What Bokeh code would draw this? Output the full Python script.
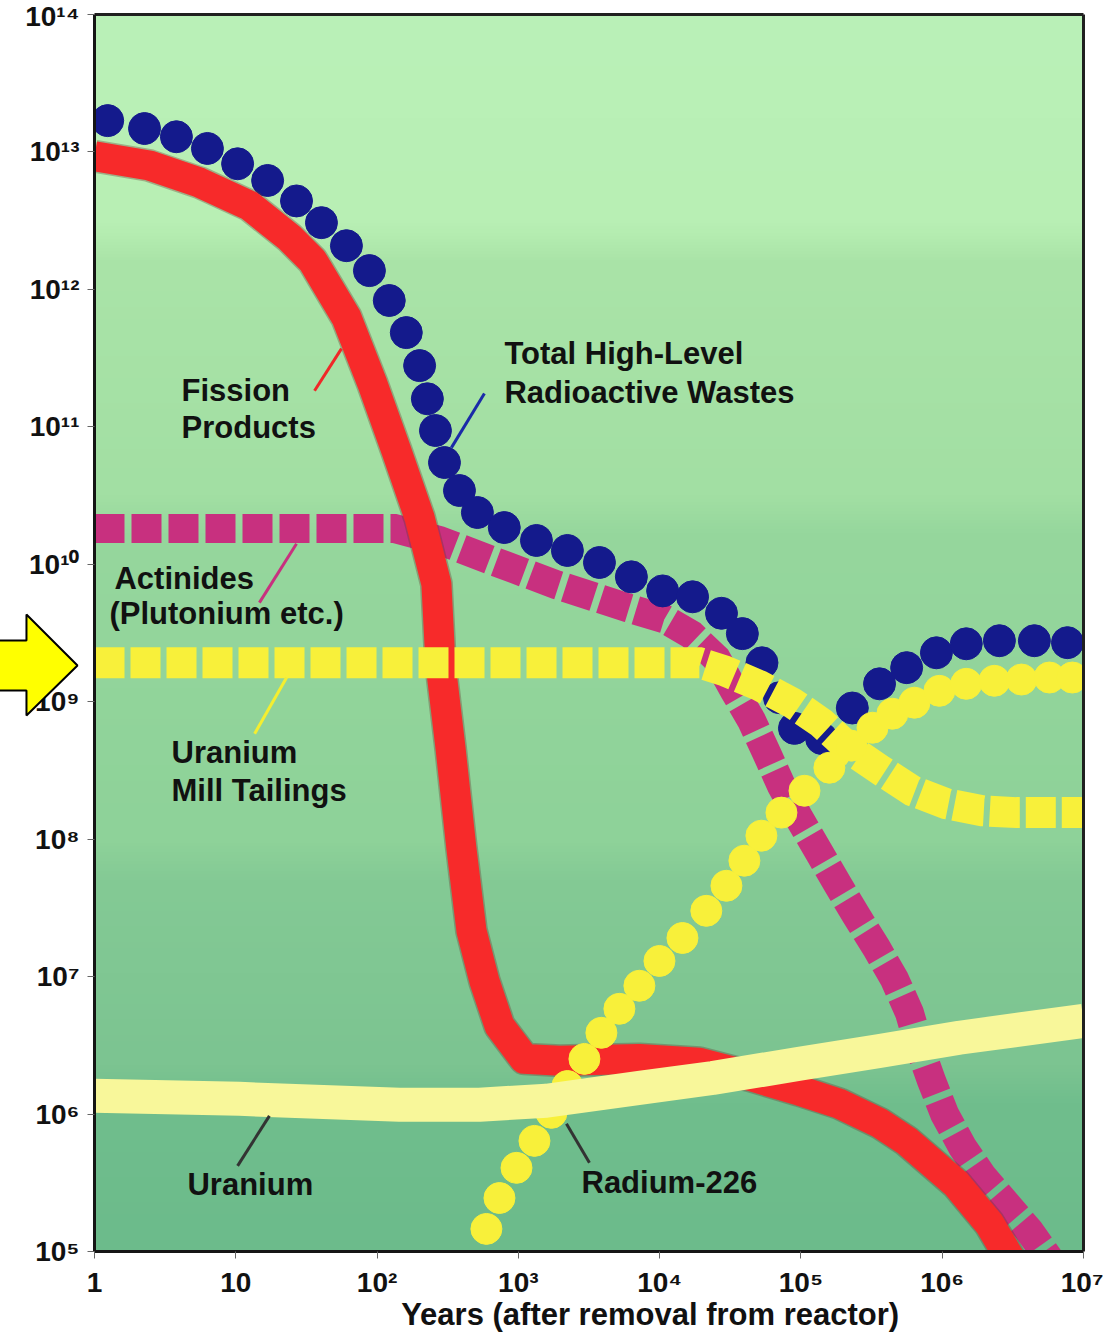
import numpy as np
from bokeh.plotting import figure
from bokeh.models import FixedTicker, ColumnDataSource
from bokeh.core.properties import value
from bokeh.embed import file_html
from bokeh.resources import INLINE

# ---------------- data (years after removal, relative activity) ----------------
fission_years = [1, 2.45, 5.53, 12.5, 24, 34.9, 60.7, 92.7, 137, 200, 263, 281, 331, 395, 466,
                 575, 735, 1104, 1954, 7190, 1.91e4, 4.32e4, 9.76e4, 1.87e5, 3.6e5, 5.58e5,
                 1.26e6, 2.16e6, 3.09e6]
fission_activity = [9.3e12, 7.96e12, 5.99e12, 4.07e12, 2.38e12, 1.62e12, 6.24e11, 2.06e11, 6.7e10,
                    2.18e10, 7.2e9, 1.89e9, 4.6e8, 8.65e7, 2.15e7, 9.3e6, 4.39e6, 2.52e6, 2.44e6,
                    2.52e6, 2.36e6, 1.9e6, 1.48e6, 1.19e6, 8.6e5, 6.4e5, 3.1e5, 1.59e5, 8.55e4]

total_years = [1.24, 2.26, 3.8, 6.3, 10.3, 16.8, 26.9, 40.4, 60.7, 88.3, 122, 161, 200, 227, 259,
               300, 383, 513, 795, 1343, 2224, 3750, 6310, 1.05e4, 1.71e4, 2.74e4, 3.85e4, 5.3e4,
               7.05e4, 9.0e4, 1.4e5, 2.31e5, 3.6e5, 5.6e5, 9.1e5, 1.48e6, 2.54e6, 4.49e6, 7.7e6]
total_activity = [1.69e13, 1.48e13, 1.29e13, 1.06e13, 8.2e12, 6.2e12, 4.4e12, 3.06e12, 2.08e12,
                  1.37e12, 8.3e11, 4.85e11, 2.79e11, 1.6e11, 9.4e10, 5.5e10, 3.44e10, 2.38e10,
                  1.85e10, 1.49e10, 1.26e10, 1.03e10, 8.1e9, 6.4e9, 5.8e9, 4.4e9, 3.13e9, 1.92e9,
                  1.07e9, 6.4e8, 5.4e8, 9.0e8, 1.35e9, 1.77e9, 2.27e9, 2.64e9, 2.78e9, 2.78e9, 2.69e9]

actinide_years = [1, 133, 277, 656, 1862, 5916, 1.08e4, 1.68e4, 2.52e4, 3.38e4, 4.47e4, 5.7e4,
                  7.28e4, 9.76e4, 1.35e5, 1.81e5, 2.47e5, 3.42e5, 4.59e5, 5.86e5, 6.9e5, 8.39e5,
                  1.04e6, 1.39e6, 1.92e6, 2.84e6, 4.14e6, 5.74e6]
actinide_activity = [1.82e10, 1.82e10, 1.49e10, 1.06e10, 7.1e9, 4.83e9, 4.0e9, 3.07e9, 2.06e9,
                     1.2e9, 7.3e8, 4.26e8, 2.45e8, 1.41e8, 7.96e7, 4.73e7, 2.77e7, 1.62e7, 9.6e6,
                     5.46e6, 3.08e6, 1.75e6, 1.0e6, 5.77e5, 3.55e5, 2.22e5, 1.41e5, 8.8e4]

mill_years = [1, 1.91e4, 2.87e4, 5.08e4, 8.7e4, 1.4e5, 2.2e5, 3.71e5, 6.15e5, 1.07e6, 1.92e6,
              3.35e6, 1e7]
mill_activity = [1.92e9, 1.92e9, 1.68e9, 1.31e9, 9.8e8, 7.0e8, 4.55e8, 3.15e8, 2.25e8, 1.81e8,
                 1.61e8, 1.56e8, 1.56e8]

radium_years = [594, 735, 970, 1300, 1715, 2225, 2935, 3870, 5190, 7190, 9970, 1.45e4, 2.14e4,
                2.97e4, 3.98e4, 5.25e4, 7.28e4, 1.06e5, 1.59e5, 2.28e5, 3.21e5, 4.44e5, 6.36e5,
                9.55e5, 1.48e6, 2.34e6, 3.64e6, 5.74e6, 8.34e6]
radium_activity = [1.46e5, 2.45e5, 4.06e5, 6.38e5, 1.02e6, 1.6e6, 2.52e6, 3.9e6, 5.83e6, 8.58e6,
                   1.3e7, 1.91e7, 3.01e7, 4.58e7, 6.97e7, 1.06e8, 1.56e8, 2.25e8, 3.31e8, 4.79e8,
                   6.47e8, 8.18e8, 9.84e8, 1.2e9, 1.35e9, 1.42e9, 1.45e9, 1.5e9, 1.5e9]

uranium_years = [1, 10.6, 144, 531, 1581, 7190, 2.37e4, 9.76e4, 3.6e5, 1.32e6, 1e7]
uranium_activity = [1.36e6, 1.29e6, 1.17e6, 1.17e6, 1.25e6, 1.55e6, 1.83e6, 2.32e6, 2.88e6,
                    3.59e6, 4.77e6]

x_ticks = [1, 10, 100, 1e3, 1e4, 1e5, 1e6, 1e7]
x_tick_labels = ["1", "10", "10²", "10³", "10⁴", "10⁵", "10⁶", "10⁷"]
y_ticks = [1e5, 1e6, 1e7, 1e8, 1e9, 1e10, 1e11, 1e12, 1e13, 1e14]
y_tick_labels = ["10⁵", "10⁶", "10⁷", "10⁸", "10⁹", "10¹⁰", "10¹¹", "10¹²", "10¹³", "10¹⁴"]
x_title = "Years (after removal from reactor)"

# annotation texts and their anchor (left, baseline) positions
label_text = ["Fission", "Products", "Total High-Level", "Radioactive Wastes", "Actinides",
              "(Plutonium etc.)", "Uranium", "Mill Tailings", "Uranium", "Radium-226"]
label_x = [4.13, 4.13, 797, 797, 1.385, 1.277, 3.51, 3.51, 4.55, 2798]
label_y = [1.55e11, 8.34e10, 2.88e11, 1.5e11, 6.64e9, 3.7e9, 3.6e8, 1.9e8, 2.62e5, 2.67e5]
title_x = [148]
title_y = [2.85e4]

# leader lines
lead_x0 = [36.1, 336, 14.7, 13.6, 10.3, 2190]
lead_y0 = [1.83e11, 7.06e10, 5.26e9, 5.85e8, 4.2e5, 8.5e5]
lead_x1 = [56, 575, 26.9, 22.9, 17.3, 3185]
lead_y1 = [3.71e11, 1.75e11, 1.41e10, 1.5e9, 9.7e5, 4.42e5]
lead_color = ["#f02828", "#1a2aa8", "#c8307f", "#f4ee30", "#333333", "#333333"]

# yellow pointer arrow left of the y axis (at the mill-tailings level)
arrow_x = [0.2, 0.33, 0.33, 0.758, 0.33, 0.33, 0.2]
arrow_y = [2.79e9, 2.79e9, 4.31e9, 1.834e9, 7.93e8, 1.206e9, 1.206e9]

FONT = "Liberation Sans"
X0, X1 = 1, 1e7
Y0, Y1 = 1e5, 1e14

# the frame covers the whole canvas; axes are pinned at x=1 and y=1e5
p = figure(width=1103, height=1333, x_axis_type="log", y_axis_type="log",
           x_range=(10 ** (-94 / 141.29), 10 ** (7 + 20 / 141.29)),
           y_range=(10 ** (5 - 82 / 137.44), 10 ** (14 + 14 / 137.44)),
           output_backend="svg", toolbar_location=None, min_border=0)
p.min_border_left = p.min_border_right = p.min_border_top = p.min_border_bottom = 0
p.background_fill_color = "white"
p.border_fill_color = "white"
p.outline_line_color = None
p.grid.visible = False

# background vertical gradient (top light green -> bottom darker green)
n = 400
frac = np.linspace(0, 1, n)  # 0 = bottom, 1 = top
stops_f = [0.0, 0.12, 0.15, 0.30, 0.33, 0.58, 0.61, 0.80, 0.83, 1.0]
stops_r = [108, 112, 124, 132, 142, 150, 162, 170, 184, 186]
stops_g = [187, 190, 196, 202, 210, 215, 223, 228, 239, 241]
stops_b = [139, 141, 145, 149, 153, 157, 163, 168, 180, 184]
img = np.empty((n, 1), dtype=np.uint32)
view = img.view(dtype=np.uint8).reshape((n, 1, 4))
view[:, 0, 0] = np.interp(frac, stops_f, stops_r).astype(np.uint8)
view[:, 0, 1] = np.interp(frac, stops_f, stops_g).astype(np.uint8)
view[:, 0, 2] = np.interp(frac, stops_f, stops_b).astype(np.uint8)
view[:, 0, 3] = 255
p.image_rgba(image=[img], x=X0, y=Y0, dw=X1 - X0, dh=Y1 - Y0)

# actinides (magenta squares)
p.line(actinide_years, actinide_activity, line_color="#c8307f", line_width=29,
       line_dash="30 7", line_cap="butt", line_join="miter")
# total (navy dots)
p.scatter(total_years, total_activity, size=32, fill_color="#141a8c", line_color="#141a8c",
          line_width=1)
# fission products (red band)
p.line(fission_years, fission_activity, line_color="#6a3a30", line_width=33, line_alpha=0.35,
       line_join="round")
p.line(fission_years, fission_activity, line_color="#f72a2a", line_width=30, line_join="round")
# uranium mill tailings (yellow squares)
p.line(mill_years, mill_activity, line_color="#f8f03a", line_width=31, line_dash="30 6",
       line_cap="butt", line_join="miter")
# radium-226 (yellow dots)
p.scatter(radium_years, radium_activity, size=31, fill_color="#f8f03a", line_color="#f8f03a")
# uranium (pale yellow band)
p.line(uranium_years, uranium_activity, line_color="#f8f79a", line_width=34, line_join="round")

# white masks outside the data area (curves ending beyond the plot box)
p.quad(left=[p.x_range.start, X1], right=[X0, p.x_range.end],
       bottom=[p.y_range.start, p.y_range.start], top=[p.y_range.end, p.y_range.end],
       fill_color="white", line_color=None)
p.quad(left=[X0], right=[X1], bottom=[p.y_range.start], top=[Y0],
       fill_color="white", line_color=None)
p.quad(left=[X0], right=[X1], bottom=[Y1], top=[p.y_range.end],
       fill_color="white", line_color=None)

# top and right border of the plot box
p.segment(x0=[X0, X1], y0=[Y1, Y0], x1=[X1, X1], y1=[Y1, Y1], line_color="#202020",
          line_width=3)

# leader lines
p.segment(x0=lead_x0, y0=lead_y0, x1=lead_x1, y1=lead_y1, line_color=lead_color, line_width=3)

# labels
src = ColumnDataSource(dict(x=label_x, y=label_y, t=label_text))
p.text(x="x", y="y", text="t", source=src, text_font=value(FONT), text_font_style="bold",
       text_font_size="31px", text_color="#111111", text_baseline="alphabetic",
       text_align="left", y_offset=-10)
p.text(x=title_x, y=title_y, text=[x_title], text_font=value(FONT), text_font_style="bold",
       text_font_size="31px", text_color="#111111", text_baseline="alphabetic",
       text_align="left", y_offset=-12)

# axes pinned to the plot box
for ax in (p.xaxis[0], p.yaxis[0]):
    ax.axis_line_width = 3
    ax.axis_line_color = "#151515"
    ax.major_tick_line_color = "#666666"
    ax.major_tick_line_width = 1
    ax.major_tick_out = 7
    ax.major_tick_in = 0
    ax.minor_tick_line_color = None
    ax.major_label_text_font = FONT
    ax.major_label_text_font_style = "bold"
    ax.major_label_text_font_size = "28px"
    ax.major_label_text_color = "#111111"

p.xaxis.fixed_location = Y0
p.xaxis.bounds = (X0, X1)
p.xaxis.ticker = FixedTicker(ticks=x_ticks)
p.xaxis.major_label_overrides = {float(k): v for k, v in zip(x_ticks, x_tick_labels)}
p.xaxis.major_label_standoff = 9
p.yaxis.fixed_location = X0
p.yaxis.bounds = (Y0, Y1)
p.yaxis.ticker = FixedTicker(ticks=y_ticks)
p.yaxis.major_label_overrides = {float(k): v for k, v in zip(y_ticks, y_tick_labels)}
p.yaxis.major_label_standoff = 8

# arrow drawn above the axis labels
p.patch(arrow_x, arrow_y, fill_color="#ffff00", line_color="black", line_width=2,
        level="overlay")

open("out.html", "w").write(file_html(p, INLINE))
